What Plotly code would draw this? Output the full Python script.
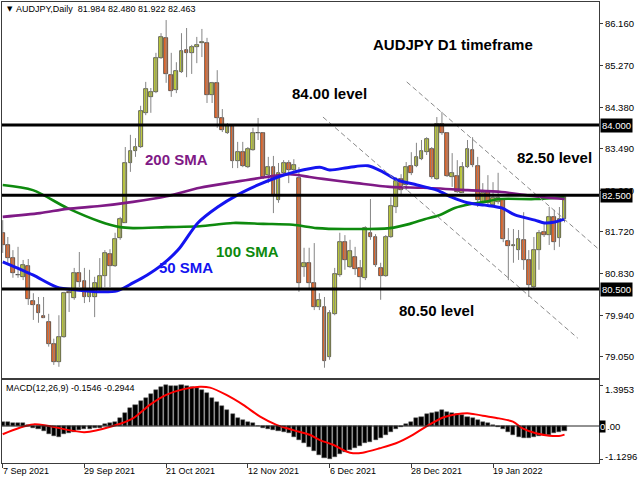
import plotly.graph_objects as go

# ---------------- data ----------------
open_ = [81.70, 81.44, 81.16, 80.80, 80.76, 80.99, 80.24, 80.16, 79.92, 79.80,
         79.32, 78.95, 79.48, 80.44, 80.31, 80.84, 80.67, 80.33, 80.33, 80.50,
         80.78, 81.25, 80.99, 81.59, 81.91, 83.19, 83.45, 83.53, 84.26, 84.60,
         84.70, 85.43, 85.86, 85.07, 84.75, 85.13, 85.60, 85.54, 85.66, 85.75,
         85.75, 84.64, 84.90, 84.15, 83.83, 83.98, 83.23, 83.42, 83.10, 83.47,
         83.83, 83.83, 82.93, 83.10, 82.40, 82.98, 83.19, 83.04, 82.87, 80.97,
         81.06, 80.63, 80.12, 80.12, 79.05, 79.97, 80.80, 81.50, 80.97, 81.18,
         80.95, 80.74, 81.70, 81.61, 80.95, 80.78, 81.61, 82.25, 82.85, 82.72,
         83.13, 83.13, 83.27, 83.42, 83.49, 82.85, 84.02, 83.83, 82.89, 82.91,
         82.55, 83.10, 83.47, 83.13, 82.36, 82.57, 82.29, 82.36, 82.42, 81.52,
         81.42, 81.33, 81.55, 81.12, 80.54, 81.33, 81.72, 81.65, 82.04, 81.59,
         81.984]
high = [81.97, 81.61, 81.33, 81.40, 81.12, 81.14, 80.41, 80.33, 80.33, 79.97,
        79.44, 79.94, 80.44, 80.52, 80.95, 81.29, 80.95, 80.91, 80.76, 81.16,
        81.33, 81.35, 81.70, 82.04, 83.53, 83.79, 83.72, 84.41, 84.92, 84.79,
        85.54, 85.96, 86.24, 85.54, 85.34, 85.96, 86.07, 85.71, 85.88, 86.05,
        85.86, 84.92, 85.17, 84.34, 84.04, 84.02, 83.64, 83.64, 83.53, 83.94,
        84.15, 83.85, 83.32, 83.34, 83.19, 83.25, 83.25, 83.27, 83.10, 81.38,
        81.38, 81.48, 80.41, 80.33, 80.05, 80.95, 81.70, 81.65, 81.55, 81.40,
        81.12, 81.84, 82.42, 81.67, 81.06, 81.65, 82.46, 82.89, 82.95, 83.21,
        83.42, 83.62, 83.68, 83.74, 83.53, 84.17, 84.28, 83.85, 83.40, 83.25,
        83.21, 83.68, 83.74, 83.32, 82.76, 82.93, 82.78, 82.98, 82.44, 81.80,
        81.78, 81.76, 82.14, 81.33, 81.61, 81.76, 81.93, 82.25, 82.19, 82.25,
        82.480]
low = [81.27, 81.06, 80.74, 80.74, 80.69, 80.16, 79.84, 79.78, 79.88, 79.27,
       78.88, 78.84, 79.46, 80.01, 80.27, 80.54, 80.20, 80.22, 79.90, 80.46,
       80.54, 80.54, 80.97, 81.55, 81.91, 83.00, 83.32, 83.51, 84.21, 84.26,
       84.68, 85.41, 84.90, 84.60, 84.68, 85.11, 85.02, 85.09, 85.32, 85.45,
       84.47, 84.47, 83.94, 83.85, 83.81, 83.08, 83.08, 83.10, 83.08, 83.45,
       83.68, 82.85, 82.76, 82.12, 82.34, 82.91, 82.76, 82.93, 80.44, 80.76,
       80.48, 80.05, 80.05, 78.82, 78.99, 79.94, 80.76, 80.91, 80.95, 80.80,
       80.48, 80.69, 81.55, 80.97, 80.27, 80.76, 81.59, 82.12, 82.51, 82.61,
       82.93, 83.10, 83.25, 83.36, 82.85, 82.83, 83.79, 82.89, 82.68, 82.55,
       82.55, 83.08, 83.10, 82.25, 82.34, 82.29, 82.25, 82.31, 81.50, 80.69,
       81.06, 81.12, 80.91, 80.33, 80.52, 80.91, 81.61, 81.44, 81.33, 81.40,
       81.922]
close = [81.44, 81.16, 80.84, 80.79, 81.01, 80.29, 80.16, 79.99, 79.89, 79.33,
         78.95, 79.48, 80.41, 80.41, 80.84, 80.65, 80.33, 80.44, 80.63, 80.78,
         81.27, 80.99, 81.57, 81.99, 83.19, 83.45, 83.53, 84.30, 84.77, 84.70,
         85.43, 85.88, 85.09, 84.73, 85.15, 85.58, 85.54, 85.66, 85.71, 85.76,
         84.64, 84.90, 84.15, 83.89, 83.98, 83.23, 83.42, 83.13, 83.49, 83.83,
         83.82, 82.89, 83.10, 82.51, 82.98, 83.19, 83.04, 83.15, 80.63, 81.06,
         80.63, 80.12, 80.27, 78.97, 79.99, 80.82, 81.50, 81.12, 81.31, 80.93,
         80.76, 81.80, 81.61, 81.01, 80.78, 81.61, 82.27, 82.80, 82.61, 83.10,
         82.98, 83.32, 83.45, 83.70, 82.89, 84.02, 83.83, 82.91, 82.98, 82.57,
         83.10, 83.49, 83.15, 82.40, 82.55, 82.34, 82.44, 82.44, 81.57, 81.42,
         81.43, 81.57, 81.12, 80.59, 81.33, 81.70, 81.65, 82.04, 81.50, 81.99,
         82.463]

# moving averages (bar index, price)
sma50_x = [0, 5.9, 10.6, 14.5, 19, 22.4, 25.5, 28.3, 31.1, 34.3, 38.2, 42.1, 46, 50, 53.9,
           57.2, 62.1, 64, 68, 71.5, 74.4, 77.2, 81.1, 85, 87.9, 91, 94.4, 97.7, 100.3,
           104.2, 106.1, 108.1, 110]
sma50_y = [81.08, 80.80, 80.54, 80.48, 80.44, 80.46, 80.63, 80.80, 81.01, 81.33, 81.91, 82.25,
           82.51, 82.72, 82.89, 83.00, 83.10, 83.04, 83.10, 83.13, 83.00, 82.83, 82.72, 82.61,
           82.46, 82.34, 82.29, 82.23, 82.08, 81.97, 81.91, 81.93, 81.99]
sma100_x = [0, 5.9, 12.6, 19, 23, 25.5, 32, 38.6, 45.1, 51, 56.8, 61.5, 67, 75.8, 79.7,
            82.6, 85.6, 88.5, 91.4, 94.4, 97.3, 104.2, 110]
sma100_y = [82.72, 82.61, 82.23, 81.94, 81.82, 81.80, 81.82, 81.84, 81.91, 81.89, 81.87, 81.80,
            81.78, 81.80, 81.89, 81.99, 82.08, 82.23, 82.31, 82.36, 82.42, 82.42, 82.46]
sma200_x = [0, 7.3, 12.6, 19, 25.5, 32.1, 38.6, 45.1, 51.7, 56.2, 60.1, 62.7, 69.3, 75.8,
            82.3, 91, 97.7, 104.2, 110]
sma200_y = [82.04, 82.12, 82.21, 82.27, 82.36, 82.48, 82.66, 82.78, 82.89, 82.95, 82.89, 82.85,
            82.76, 82.68, 82.66, 82.61, 82.57, 82.48, 82.42]

levels = [84.0, 82.5, 80.5]
level_text = ["84.000", "82.500", "80.500"]

chan_upper_x = [79.1, 116.9]
chan_upper_y = [84.92, 81.33]
chan_lower_x = [62.7, 112.6]
chan_lower_y = [84.17, 79.45]

macd_hist = [0.15, 0.15, 0.11, 0.11, 0.09, 0.04, -0.08, -0.11, -0.17, -0.29,
             -0.34, -0.37, -0.29, -0.23, -0.19, -0.14, -0.11, -0.10, -0.08, -0.06,
             0.06, 0.09, 0.15, 0.26, 0.43, 0.60, 0.72, 0.86, 0.97, 1.08,
             1.22, 1.34, 1.395, 1.37, 1.37, 1.39, 1.37, 1.34, 1.29, 1.22,
             1.11, 0.97, 0.83, 0.68, 0.54, 0.40, 0.26, 0.20, 0.15, 0.09,
             0.01, -0.08, -0.11, -0.14, -0.17, -0.19, -0.25, -0.37, -0.48, -0.59,
             -0.71, -0.87,
             -0.98, -1.08, -1.13, -1.05, -0.97, -0.90, -0.82, -0.74, -0.67, -0.59,
             -0.53, -0.48, -0.40, -0.30, -0.19, -0.11, -0.02, 0.06, 0.15, 0.26,
             0.32, 0.40, 0.43, 0.49, 0.54, 0.49, 0.45, 0.40, 0.38,
             0.32, 0.26, 0.20, 0.15, 0.09, 0.04, -0.02, -0.10, -0.19, -0.30,
             -0.37, -0.42, -0.40, -0.37, -0.34, -0.30, -0.30, -0.25, -0.19, -0.1546]
signal_x = [0, 6, 16, 21.6, 25.5, 28.8, 32, 35.4, 38.6, 40.6, 43.8, 47.1, 50.4, 53.6, 56.9,
            60.1, 62.1, 64.7, 67.3, 68.6, 70.5, 73.8, 77, 80.3, 82.9, 86.2, 88.8, 91.4, 94,
            97.2, 99.9, 101.8, 104.4, 107, 108.9, 110]
signal_y = [-0.28, 0.055, -0.21, 0.0, 0.26, 0.72, 1.06, 1.26, 1.34, 1.31, 1.06, 0.72, 0.32,
            0.04, -0.14, -0.30, -0.48, -0.64, -0.87, -0.93, -0.91, -0.76, -0.59, -0.30, -0.02,
            0.29, 0.40, 0.43, 0.35, 0.26, 0.15, -0.08, -0.25, -0.33, -0.34, -0.2944]

price_ticks = [86.16, 85.27, 84.38, 83.49, 82.60, 81.72, 80.83, 79.94, 79.05]
date_idx = [0, 16, 32, 48, 64, 80, 96]
date_labels = ["7 Sep 2021", "29 Sep 2021", "21 Oct 2021", "12 Nov 2021",
               "6 Dec 2021", "28 Dec 2021", "19 Jan 2022"]
macd_ticks = [1.3953, 0.0, -1.1296]

# ---------------- build ----------------
FONT = "Liberation Sans, Arial, sans-serif"
UP = "#C6D43A"
DN = "#EE6A2A"

n = len(open_)
idx = list(range(n))
fig = go.Figure()

# wicks
wx, wy = [], []
for i in idx:
    wx += [i, i, None]
    wy += [low[i], high[i], None]
fig.add_trace(go.Scatter(x=wx, y=wy, mode="lines", line=dict(color="#858585", width=1),
                         hoverinfo="skip", xaxis="x", yaxis="y"))

# bodies
for up, col in [(True, UP), (False, DN)]:
    sel = [i for i in idx if (close[i] >= open_[i]) == up]
    base = [min(open_[i], close[i]) for i in sel]
    hgt = [max(abs(close[i] - open_[i]), 0.015) for i in sel]
    fig.add_trace(go.Bar(x=sel, y=hgt, base=base, width=0.74,
                         marker=dict(color=col, line=dict(color="#2e2e2e", width=0.7)),
                         xaxis="x", yaxis="y"))

# moving averages
for xs, ys, col, w in [(sma100_x, sma100_y, "#0E8A0E", 2.6),
                       (sma200_x, sma200_y, "#7F1A86", 2.6),
                       (sma50_x, sma50_y, "#1414F0", 3.0)]:
    fig.add_trace(go.Scatter(x=xs, y=ys, mode="lines", line=dict(color=col, width=w, shape="spline",
                                                                    smoothing=0.8),
                             xaxis="x", yaxis="y"))

# channel
for xs, ys in [(chan_upper_x, chan_upper_y), (chan_lower_x, chan_lower_y)]:
    fig.add_trace(go.Scatter(x=xs, y=ys, mode="lines",
                             line=dict(color="#8a8a8a", width=1, dash="5px,3px"),
                             xaxis="x", yaxis="y"))

# MACD
fig.add_trace(go.Bar(x=idx, y=macd_hist, width=0.8,
                     marker=dict(color="#000000", line=dict(color="#555555", width=0.5)),
                     xaxis="x2", yaxis="y2"))
fig.add_trace(go.Scatter(x=signal_x, y=signal_y, mode="lines",
                         line=dict(color="#FF0000", width=2, shape="spline", smoothing=0.8),
                         xaxis="x2", yaxis="y2"))

shapes = []
for lv in levels:
    shapes.append(dict(type="line", xref="x domain", yref="y", x0=0, x1=1, y0=lv, y1=lv,
                       line=dict(color="#000000", width=3)))
shapes.append(dict(type="line", xref="x2 domain", yref="y2", x0=0, x1=1, y0=0, y1=0,
                   line=dict(color="#222222", width=1)))

annotations = []
for lv, t in zip(levels, level_text):
    annotations.append(dict(xref="paper", yref="y", x=1, y=lv, xanchor="left", yanchor="middle",
                            xshift=1, text=t, showarrow=False, bgcolor="#000000", borderpad=1,
                            font=dict(family=FONT, size=9.5, color="#FFFFFF")))

for txt, x, y, col in [("AUDJPY D1 timeframe", 88.1, 85.71, "#000000"),
                       ("84.00 level", 63.9, 84.68, "#000000"),
                       ("82.50 level", 108.0, 83.30, "#000000"),
                       ("80.50 level", 85.0, 80.05, "#000000"),
                       ("200 SMA", 34.0, 83.26, "#7F1A86"),
                       ("100 SMA", 48.0, 81.29, "#0E8A0E"),
                       ("50 SMA", 35.9, 80.95, "#1414F0")]:
    annotations.append(dict(xref="x", yref="y", x=x, y=y, text="<b>%s</b>" % txt, showarrow=False,
                            xanchor="center", yanchor="middle",
                            font=dict(family=FONT, size=15, color=col)))

small = dict(family=FONT, size=9, color="#000000")
annotations.append(dict(xref="paper", yref="paper", x=0.005, y=0.9852, text="▼", showarrow=False,
                        xanchor="left", yanchor="middle", font=dict(family="DejaVu Sans", size=7, color="#000")))
annotations.append(dict(xref="paper", yref="paper", x=0.0205, y=0.9852,
                        text="AUDJPY,Daily  81.984 82.480 81.922 82.463", showarrow=False,
                        xanchor="left", yanchor="middle", font=small))
annotations.append(dict(xref="paper", yref="paper", x=0.0035, y=0.1628,
                        text="MACD(12,26,9) -0.1546 -0.2944", showarrow=False,
                        xanchor="left", yanchor="middle", font=small))

# MACD scale labels
annotations.append(dict(xref="paper", yref="y2", x=1, y=macd_ticks[0], xanchor="left", yanchor="middle",
                        xshift=4, yshift=-4, text="1.3953", showarrow=False,
                        font=dict(family=FONT, size=9.5, color="#000")))
annotations.append(dict(xref="paper", yref="y2", x=1, y=macd_ticks[2], xanchor="left", yanchor="middle",
                        xshift=4, yshift=3, text="-1.1296", showarrow=False,
                        font=dict(family=FONT, size=9.5, color="#000")))
annotations.append(dict(xref="paper", yref="y2", x=1, y=macd_ticks[1], xanchor="left", yanchor="middle",
                        xshift=0, text="0", showarrow=False, bgcolor="#000000", borderpad=0,
                        font=dict(family=FONT, size=9.5, color="#FFFFFF")))
annotations.append(dict(xref="paper", yref="y2", x=1, y=macd_ticks[1], xanchor="left", yanchor="middle",
                        xshift=6, text=".00", showarrow=False,
                        font=dict(family=FONT, size=9.5, color="#000")))

for xi, lab in zip(date_idx, date_labels):
    annotations.append(dict(xref="x2", yref="paper", x=xi, y=0, xanchor="left", yanchor="top",
                            xshift=-2, yshift=-1, text=lab, showarrow=False, font=small))

xr = [-0.14, 116.75]
axis_line = dict(showline=True, mirror=True, linecolor="#3c3c3c", linewidth=1,
                 showgrid=False, zeroline=False)
fig.update_layout(
    width=640, height=480,
    margin=dict(l=2, r=41, t=2, b=17),
    paper_bgcolor="#FFFFFF", plot_bgcolor="#FFFFFF",
    showlegend=False, barmode="overlay", bargap=0,
    xaxis=dict(domain=[0, 1], range=xr, anchor="y", showticklabels=False, ticks="", **axis_line),
    yaxis=dict(domain=[0.1844, 1], range=[78.601, 86.625], anchor="x", side="right",
               tickvals=price_ticks, ticktext=["%.3f" % v for v in price_ticks],
               ticks="outside", ticklen=3, tickcolor="#3c3c3c",
               tickfont=dict(family=FONT, size=9.5, color="#000"), **axis_line),
    xaxis2=dict(domain=[0, 1], range=xr, anchor="y2", showticklabels=False,
                tickvals=date_idx, ticks="outside", ticklen=4, tickcolor="#3c3c3c", **axis_line),
    yaxis2=dict(domain=[0, 0.180], range=[-1.263, 1.57], anchor="x2", side="right",
                tickvals=macd_ticks, ticks="outside", ticklen=3, tickcolor="#3c3c3c",
                showticklabels=False, **axis_line),
    shapes=shapes,
    annotations=annotations,
)

fig.write_html("out.html", config={"displayModeBar": False},
               post_script="document.body.style.margin='0';document.body.style.overflow='hidden';")
